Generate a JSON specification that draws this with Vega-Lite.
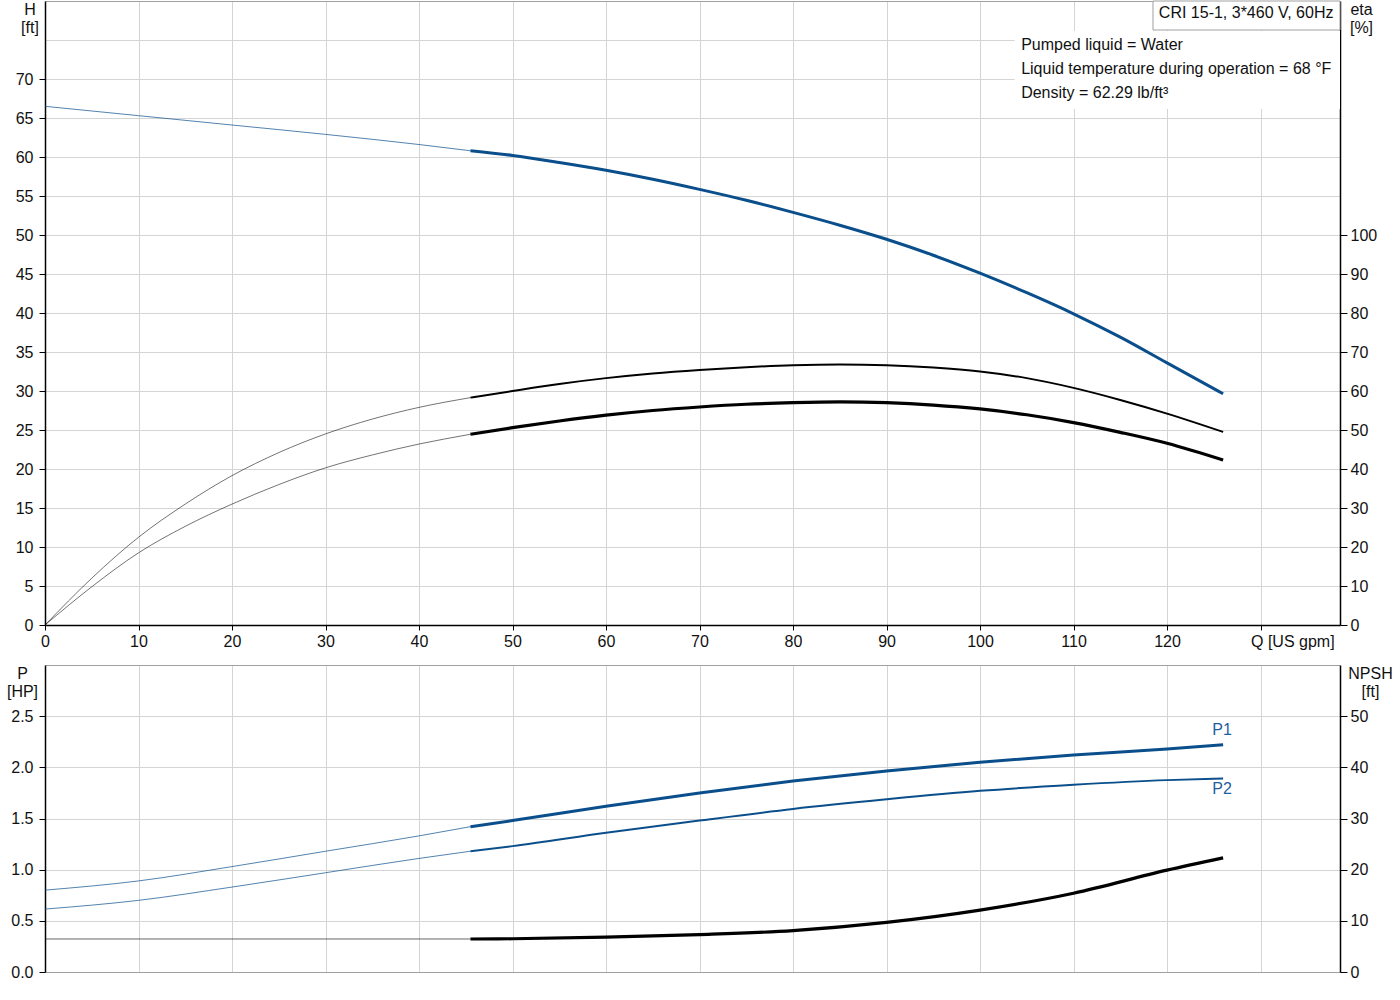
{
  "$schema": "https://vega.github.io/schema/vega-lite/v6.json",
  "padding": {"left": 6, "top": 0, "right": 0, "bottom": 0},
  "spacing": 16,
  "datasets": {
    "curves": [
      {"series": "H", "seg": "ext", "q": 0, "v": 66.5},
      {"series": "H", "seg": "ext", "q": 10, "v": 65.3},
      {"series": "H", "seg": "ext", "q": 20, "v": 64.1},
      {"series": "H", "seg": "ext", "q": 30, "v": 62.9},
      {"series": "H", "seg": "ext", "q": 40, "v": 61.6},
      {"series": "H", "seg": "ext", "q": 45.5, "v": 60.8},
      {"series": "H", "seg": "op", "q": 45.5, "v": 60.8},
      {"series": "H", "seg": "op", "q": 50, "v": 60.2},
      {"series": "H", "seg": "op", "q": 55, "v": 59.3},
      {"series": "H", "seg": "op", "q": 60, "v": 58.3},
      {"series": "H", "seg": "op", "q": 65, "v": 57.15},
      {"series": "H", "seg": "op", "q": 70, "v": 55.85},
      {"series": "H", "seg": "op", "q": 75, "v": 54.45},
      {"series": "H", "seg": "op", "q": 80, "v": 52.9},
      {"series": "H", "seg": "op", "q": 85, "v": 51.25},
      {"series": "H", "seg": "op", "q": 90, "v": 49.45},
      {"series": "H", "seg": "op", "q": 95, "v": 47.4},
      {"series": "H", "seg": "op", "q": 100, "v": 45.1},
      {"series": "H", "seg": "op", "q": 105, "v": 42.6},
      {"series": "H", "seg": "op", "q": 110, "v": 39.9},
      {"series": "H", "seg": "op", "q": 115, "v": 36.9},
      {"series": "H", "seg": "op", "q": 120, "v": 33.6},
      {"series": "H", "seg": "op", "q": 126, "v": 29.65},

      {"series": "eta1", "seg": "ext", "q": 0, "v": 0},
      {"series": "eta1", "seg": "ext", "q": 5, "v": 12},
      {"series": "eta1", "seg": "ext", "q": 10, "v": 22.5},
      {"series": "eta1", "seg": "ext", "q": 15, "v": 31},
      {"series": "eta1", "seg": "ext", "q": 20, "v": 38.3},
      {"series": "eta1", "seg": "ext", "q": 25, "v": 44.2},
      {"series": "eta1", "seg": "ext", "q": 30, "v": 49},
      {"series": "eta1", "seg": "ext", "q": 35, "v": 52.8},
      {"series": "eta1", "seg": "ext", "q": 40, "v": 55.8},
      {"series": "eta1", "seg": "ext", "q": 45.5, "v": 58.3},
      {"series": "eta1", "seg": "op", "q": 45.5, "v": 58.3},
      {"series": "eta1", "seg": "op", "q": 50, "v": 60},
      {"series": "eta1", "seg": "op", "q": 55, "v": 61.8},
      {"series": "eta1", "seg": "op", "q": 60, "v": 63.3},
      {"series": "eta1", "seg": "op", "q": 65, "v": 64.5},
      {"series": "eta1", "seg": "op", "q": 70, "v": 65.4},
      {"series": "eta1", "seg": "op", "q": 75, "v": 66.1},
      {"series": "eta1", "seg": "op", "q": 80, "v": 66.6},
      {"series": "eta1", "seg": "op", "q": 85, "v": 66.8},
      {"series": "eta1", "seg": "op", "q": 90, "v": 66.6},
      {"series": "eta1", "seg": "op", "q": 95, "v": 66},
      {"series": "eta1", "seg": "op", "q": 100, "v": 65},
      {"series": "eta1", "seg": "op", "q": 105, "v": 63.3},
      {"series": "eta1", "seg": "op", "q": 110, "v": 60.8},
      {"series": "eta1", "seg": "op", "q": 115, "v": 57.7},
      {"series": "eta1", "seg": "op", "q": 120, "v": 54.2},
      {"series": "eta1", "seg": "op", "q": 126, "v": 49.5},

      {"series": "eta2", "seg": "ext", "q": 0, "v": 0},
      {"series": "eta2", "seg": "ext", "q": 5, "v": 9.8},
      {"series": "eta2", "seg": "ext", "q": 10, "v": 18.5},
      {"series": "eta2", "seg": "ext", "q": 15, "v": 25.3},
      {"series": "eta2", "seg": "ext", "q": 20, "v": 31},
      {"series": "eta2", "seg": "ext", "q": 25, "v": 36},
      {"series": "eta2", "seg": "ext", "q": 30, "v": 40.3},
      {"series": "eta2", "seg": "ext", "q": 35, "v": 43.6},
      {"series": "eta2", "seg": "ext", "q": 40, "v": 46.4},
      {"series": "eta2", "seg": "ext", "q": 45.5, "v": 48.9},
      {"series": "eta2", "seg": "op", "q": 45.5, "v": 48.9},
      {"series": "eta2", "seg": "op", "q": 50, "v": 50.6},
      {"series": "eta2", "seg": "op", "q": 55, "v": 52.3},
      {"series": "eta2", "seg": "op", "q": 60, "v": 53.8},
      {"series": "eta2", "seg": "op", "q": 65, "v": 55},
      {"series": "eta2", "seg": "op", "q": 70, "v": 55.9},
      {"series": "eta2", "seg": "op", "q": 75, "v": 56.6},
      {"series": "eta2", "seg": "op", "q": 80, "v": 57},
      {"series": "eta2", "seg": "op", "q": 85, "v": 57.2},
      {"series": "eta2", "seg": "op", "q": 90, "v": 57},
      {"series": "eta2", "seg": "op", "q": 95, "v": 56.4},
      {"series": "eta2", "seg": "op", "q": 100, "v": 55.4},
      {"series": "eta2", "seg": "op", "q": 105, "v": 53.9},
      {"series": "eta2", "seg": "op", "q": 110, "v": 51.9},
      {"series": "eta2", "seg": "op", "q": 115, "v": 49.4},
      {"series": "eta2", "seg": "op", "q": 120, "v": 46.6},
      {"series": "eta2", "seg": "op", "q": 126, "v": 42.3},

      {"series": "P1", "seg": "ext", "q": 0, "v": 0.8},
      {"series": "P1", "seg": "ext", "q": 10, "v": 0.89},
      {"series": "P1", "seg": "ext", "q": 20, "v": 1.03},
      {"series": "P1", "seg": "ext", "q": 30, "v": 1.18},
      {"series": "P1", "seg": "ext", "q": 40, "v": 1.33},
      {"series": "P1", "seg": "ext", "q": 45.5, "v": 1.42},
      {"series": "P1", "seg": "op", "q": 45.5, "v": 1.42},
      {"series": "P1", "seg": "op", "q": 50, "v": 1.48},
      {"series": "P1", "seg": "op", "q": 60, "v": 1.62},
      {"series": "P1", "seg": "op", "q": 70, "v": 1.75},
      {"series": "P1", "seg": "op", "q": 80, "v": 1.866},
      {"series": "P1", "seg": "op", "q": 90, "v": 1.965},
      {"series": "P1", "seg": "op", "q": 100, "v": 2.05},
      {"series": "P1", "seg": "op", "q": 110, "v": 2.12},
      {"series": "P1", "seg": "op", "q": 120, "v": 2.18},
      {"series": "P1", "seg": "op", "q": 126, "v": 2.22},

      {"series": "P2", "seg": "ext", "q": 0, "v": 0.615},
      {"series": "P2", "seg": "ext", "q": 10, "v": 0.7},
      {"series": "P2", "seg": "ext", "q": 20, "v": 0.83},
      {"series": "P2", "seg": "ext", "q": 30, "v": 0.97},
      {"series": "P2", "seg": "ext", "q": 40, "v": 1.11},
      {"series": "P2", "seg": "ext", "q": 45.5, "v": 1.18},
      {"series": "P2", "seg": "op", "q": 45.5, "v": 1.18},
      {"series": "P2", "seg": "op", "q": 50, "v": 1.23},
      {"series": "P2", "seg": "op", "q": 60, "v": 1.36},
      {"series": "P2", "seg": "op", "q": 70, "v": 1.48},
      {"series": "P2", "seg": "op", "q": 80, "v": 1.593},
      {"series": "P2", "seg": "op", "q": 90, "v": 1.687},
      {"series": "P2", "seg": "op", "q": 100, "v": 1.77},
      {"series": "P2", "seg": "op", "q": 110, "v": 1.83},
      {"series": "P2", "seg": "op", "q": 120, "v": 1.875},
      {"series": "P2", "seg": "op", "q": 126, "v": 1.89},

      {"series": "NPSH", "seg": "ext", "q": 0, "v": 6.45},
      {"series": "NPSH", "seg": "ext", "q": 45.5, "v": 6.45},
      {"series": "NPSH", "seg": "op", "q": 45.5, "v": 6.45},
      {"series": "NPSH", "seg": "op", "q": 50, "v": 6.5},
      {"series": "NPSH", "seg": "op", "q": 60, "v": 6.8},
      {"series": "NPSH", "seg": "op", "q": 70, "v": 7.3},
      {"series": "NPSH", "seg": "op", "q": 80, "v": 8.1},
      {"series": "NPSH", "seg": "op", "q": 90, "v": 9.7},
      {"series": "NPSH", "seg": "op", "q": 100, "v": 12.1},
      {"series": "NPSH", "seg": "op", "q": 110, "v": 15.4},
      {"series": "NPSH", "seg": "op", "q": 120, "v": 19.9},
      {"series": "NPSH", "seg": "op", "q": 126, "v": 22.3}
    ]
  },
  "vconcat": [
    {
      "width": 1295,
      "height": 624,
      "layer": [
        {
          "data": {"name": "curves"},
          "transform": [{"filter": "datum.series == 'H'"}],
          "mark": {"type": "line", "color": "#0a4f8c", "interpolate": "monotone"},
          "encoding": {
            "x": {
              "field": "q", "type": "quantitative",
              "scale": {"domain": [0, 138.5], "nice": false, "zero": false},
              "axis": {
                "values": [0, 10, 20, 30, 40, 50, 60, 70, 80, 90, 100, 110, 120, 130],
                "labelExpr": "datum.value == 130 ? 'Q [US gpm]' : datum.label",
                "labelAlign": {"condition": {"test": "datum.value == 130", "value": "left"}, "value": "center"},
                "labelOffset": {"condition": {"test": "datum.value == 130", "value": -10}, "value": 0},
                "tickSize": 5, "labelPadding": 3, "title": null, "grid": true
              }
            },
            "y": {
              "field": "v", "type": "quantitative",
              "scale": {"domain": [0, 80], "nice": false},
              "axis": {
                "values": [0, 5, 10, 15, 20, 25, 30, 35, 40, 45, 50, 55, 60, 65, 70, 75, 80],
                "labelOverlap": false,
                "labelExpr": "datum.value > 70 ? '' : datum.label",
                "labelFontSize": {"condition": {"test": "datum.value > 70", "value": 0}, "value": 16},
                "tickOpacity": {"condition": {"test": "datum.value > 70", "value": 0}, "value": 1},
                "gridColor": {"condition": {"test": "datum.value == 80", "value": "#a0a0a0"}, "value": "#d4d4d4"},
                "grid": true, "tickSize": 6, "labelPadding": 6,
                "title": ["H", "[ft]"], "titleX": -15.5, "titleY": 0,
                "titleAlign": "center", "titleBaseline": "top"
              }
            },
            "detail": {"field": "seg"},
            "strokeWidth": {"condition": {"test": "datum.seg == 'op'", "value": 3}, "value": 1},
            "opacity": {"condition": {"test": "datum.seg == 'op'", "value": 1}, "value": 0.7}
          }
        },
        {
          "layer": [
            {
              "data": {"name": "curves"},
              "transform": [{"filter": "datum.series == 'eta1'"}],
              "mark": {"type": "line", "color": "#000", "interpolate": "monotone"},
              "encoding": {
                "x": {"field": "q", "type": "quantitative", "scale": {"domain": [0, 138.5], "nice": false, "zero": false}, "axis": null},
                "y": {
                  "field": "v", "type": "quantitative",
                  "scale": {"domain": [0, 160], "nice": false},
                  "axis": {
                    "orient": "right",
                    "values": [0, 10, 20, 30, 40, 50, 60, 70, 80, 90, 100],
                    "grid": false, "tickSize": 7, "labelPadding": 3,
                    "title": ["eta", "[%]"], "titleX": 21, "titleY": 0,
                    "titleAlign": "center", "titleBaseline": "top"
                  }
                },
                "detail": {"field": "seg"},
                "strokeWidth": {"condition": {"test": "datum.seg == 'op'", "value": 2}, "value": 1},
                "opacity": {"condition": {"test": "datum.seg == 'op'", "value": 1}, "value": 0.55}
              }
            },
            {
              "data": {"name": "curves"},
              "transform": [{"filter": "datum.series == 'eta2'"}],
              "mark": {"type": "line", "color": "#000", "interpolate": "monotone"},
              "encoding": {
                "x": {"field": "q", "type": "quantitative", "axis": null},
                "y": {"field": "v", "type": "quantitative"},
                "detail": {"field": "seg"},
                "strokeWidth": {"condition": {"test": "datum.seg == 'op'", "value": 3.2}, "value": 1},
                "opacity": {"condition": {"test": "datum.seg == 'op'", "value": 1}, "value": 0.55}
              }
            }
          ]
        },
        {
          "data": {"values": [{}]},
          "layer": [
            {
              "mark": {"type": "rect", "fill": "white"},
              "encoding": {
                "x": {"datum": 103.7, "type": "quantitative", "scale": {"domain": [0, 138.5], "nice": false, "zero": false}, "axis": null},
                "x2": {"datum": 138.5},
                "y": {"datum": 76.15, "type": "quantitative", "scale": {"domain": [0, 80], "nice": false}, "axis": null},
                "y2": {"datum": 66.15}
              }
            },
            {
              "mark": {"type": "rect", "fill": "white", "stroke": "#a0a0a0", "strokeWidth": 1},
              "encoding": {
                "x": {"datum": 118.5, "type": "quantitative", "axis": null},
                "x2": {"datum": 138.5},
                "y": {"datum": 80, "type": "quantitative", "axis": null},
                "y2": {"datum": 76.28}
              }
            },
            {
              "mark": {"type": "text", "align": "right", "baseline": "middle", "fontSize": 16, "color": "#111"},
              "encoding": {
                "x": {"datum": 137.8, "type": "quantitative", "axis": null},
                "y": {"datum": 78.5, "type": "quantitative", "axis": null},
                "text": {"value": "CRI 15-1, 3*460 V, 60Hz"}
              }
            },
            {
              "mark": {"type": "text", "align": "left", "baseline": "top", "fontSize": 16, "lineHeight": 24, "color": "#111"},
              "encoding": {
                "x": {"datum": 104.4, "type": "quantitative", "axis": null},
                "y": {"datum": 75.4, "type": "quantitative", "axis": null},
                "text": {"value": ["Pumped liquid = Water", "Liquid temperature during operation = 68 °F", "Density = 62.29 lb/ft³"]}
              }
            }
          ]
        }
      ],
      "resolve": {"scale": {"x": "independent", "y": "independent"}}
    },
    {
      "width": 1295,
      "height": 307,
      "layer": [
        {
          "layer": [
            {
              "data": {"name": "curves"},
              "transform": [{"filter": "datum.series == 'P1'"}],
              "mark": {"type": "line", "color": "#0a4f8c", "interpolate": "monotone"},
              "encoding": {
                "x": {
                  "field": "q", "type": "quantitative",
                  "scale": {"domain": [0, 138.5], "nice": false, "zero": false},
                  "axis": {
                    "values": [0, 10, 20, 30, 40, 50, 60, 70, 80, 90, 100, 110, 120, 130],
                    "labels": false, "ticks": false, "domain": false, "title": null, "grid": true
                  }
                },
                "y": {
                  "field": "v", "type": "quantitative",
                  "scale": {"domain": [0, 3], "nice": false},
                  "axis": {
                    "values": [0, 0.5, 1, 1.5, 2, 2.5, 3],
                    "format": ".1f",
                    "labelOverlap": false,
                    "labelExpr": "datum.value > 2.5 ? '' : datum.label",
                    "labelFontSize": {"condition": {"test": "datum.value > 2.5", "value": 0}, "value": 16},
                    "tickOpacity": {"condition": {"test": "datum.value > 2.5", "value": 0}, "value": 1},
                    "gridColor": {"condition": {"test": "datum.value == 3 || datum.value == 0", "value": "#a0a0a0"}, "value": "#d4d4d4"},
                    "grid": true, "tickSize": 6, "labelPadding": 6,
                    "title": ["P", "[HP]"], "titleX": -23, "titleY": 0,
                    "titleAlign": "center", "titleBaseline": "top"
                  }
                },
                "detail": {"field": "seg"},
                "strokeWidth": {"condition": {"test": "datum.seg == 'op'", "value": 3}, "value": 1},
                "opacity": {"condition": {"test": "datum.seg == 'op'", "value": 1}, "value": 0.7}
              }
            },
            {
              "data": {"name": "curves"},
              "transform": [{"filter": "datum.series == 'P2'"}],
              "mark": {"type": "line", "color": "#0a4f8c", "interpolate": "monotone"},
              "encoding": {
                "x": {"field": "q", "type": "quantitative"},
                "y": {"field": "v", "type": "quantitative"},
                "detail": {"field": "seg"},
                "strokeWidth": {"condition": {"test": "datum.seg == 'op'", "value": 2}, "value": 1},
                "opacity": {"condition": {"test": "datum.seg == 'op'", "value": 1}, "value": 0.7}
              }
            },
            {
              "data": {"name": "curves"},
              "transform": [{"filter": "datum.series == 'P1' && datum.q == 126"}],
              "mark": {"type": "text", "color": "#1f5f9f", "fontSize": 16, "align": "center", "baseline": "middle", "dx": -1, "dy": -15},
              "encoding": {
                "x": {"field": "q", "type": "quantitative"},
                "y": {"field": "v", "type": "quantitative"},
                "text": {"field": "series"}
              }
            },
            {
              "data": {"name": "curves"},
              "transform": [{"filter": "datum.series == 'P2' && datum.q == 126"}],
              "mark": {"type": "text", "color": "#1f5f9f", "fontSize": 16, "align": "center", "baseline": "middle", "dx": -1, "dy": 10},
              "encoding": {
                "x": {"field": "q", "type": "quantitative"},
                "y": {"field": "v", "type": "quantitative"},
                "text": {"field": "series"}
              }
            }
          ]
        },
        {
          "layer": [
            {
              "data": {"name": "curves"},
              "transform": [{"filter": "datum.series == 'NPSH'"}],
              "mark": {"type": "line", "color": "#000", "interpolate": "monotone"},
              "encoding": {
                "x": {"field": "q", "type": "quantitative"},
                "y": {
                  "field": "v", "type": "quantitative",
                  "scale": {"domain": [0, 60], "nice": false},
                  "axis": {
                    "orient": "right",
                    "values": [0, 10, 20, 30, 40, 50],
                    "grid": false, "tickSize": 7, "labelPadding": 3,
                    "title": ["NPSH", "[ft]"], "titleX": 30, "titleY": 0,
                    "titleAlign": "center", "titleBaseline": "top"
                  }
                },
                "detail": {"field": "seg"},
                "strokeWidth": {"condition": {"test": "datum.seg == 'op'", "value": 3.2}, "value": 1},
                "opacity": {"condition": {"test": "datum.seg == 'op'", "value": 1}, "value": 0.6}
              }
            }
          ]
        }
      ],
      "resolve": {"scale": {"y": "independent"}}
    }
  ],
  "config": {
    "font": "Liberation Sans",
    "view": {"stroke": null},
    "axis": {
      "labelFont": "Liberation Sans",
      "labelFontSize": 16,
      "labelColor": "#111",
      "tickColor": "#000",
      "domainColor": "#000",
      "domainWidth": 1.5,
      "gridColor": "#d4d4d4",
      "titleFont": "Liberation Sans",
      "titleFontSize": 16,
      "titleFontWeight": "normal",
      "titleColor": "#111",
      "titleAngle": 0,
      "titleLineHeight": 18
    }
  }
}
